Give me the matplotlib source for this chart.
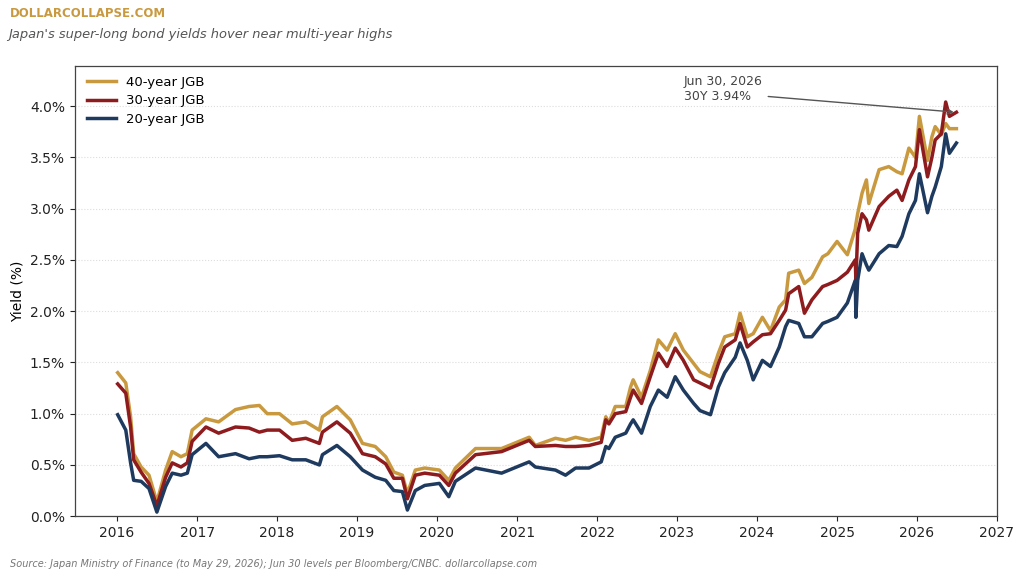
import pandas as pd
import matplotlib
matplotlib.use('Agg')
import matplotlib.pyplot as plt
import matplotlib.ticker as mticker
import matplotlib.dates as mdates

# Stuetzstellen, gemeinsam fuer alle drei Laufzeiten
dates = [
    '2016-01-04', '2016-02-10', '2016-03-03', '2016-03-17', '2016-04-20', '2016-05-26',
    '2016-07-01', '2016-08-10', '2016-09-09', '2016-10-19', '2016-11-17', '2016-12-09',
    '2017-02-10', '2017-04-09', '2017-06-25', '2017-08-26', '2017-10-12', '2017-11-17',
    '2018-01-12', '2018-03-11', '2018-05-12', '2018-07-13', '2018-07-27', '2018-10-01',
    '2018-12-01', '2019-01-26', '2019-03-25', '2019-05-12', '2019-06-18', '2019-07-27',
    '2019-08-19', '2019-09-24', '2019-11-06', '2020-01-12', '2020-02-24', '2020-03-25',
    '2020-06-25', '2020-10-22', '2021-02-25', '2021-03-25', '2021-06-25', '2021-08-10',
    '2021-09-25', '2021-11-25', '2022-01-20', '2022-02-10', '2022-02-24', '2022-03-25',
    '2022-05-12', '2022-06-03', '2022-06-15', '2022-07-23', '2022-09-01', '2022-10-08',
    '2022-11-17', '2022-12-24', '2023-01-30', '2023-03-18', '2023-04-16', '2023-06-03',
    '2023-07-09', '2023-08-07', '2023-09-24', '2023-10-16', '2023-11-18', '2023-12-15',
    '2024-01-26', '2024-03-03', '2024-04-12', '2024-05-11', '2024-05-25', '2024-07-10',
    '2024-08-05', '2024-09-08', '2024-10-27', '2024-11-20', '2025-01-01', '2025-02-17',
    '2025-03-25', '2025-03-28', '2025-04-05', '2025-04-25', '2025-05-15', '2025-05-26',
    '2025-07-12', '2025-08-25', '2025-10-01', '2025-10-25', '2025-11-25', '2025-12-25',
    '2026-01-12', '2026-02-18', '2026-03-10', '2026-03-25', '2026-04-22', '2026-05-12',
    '2026-05-29', '2026-06-30',
]

jgb40 = [
    1.40, 1.30, 0.97, 0.61, 0.48, 0.40,
    0.14, 0.45, 0.63, 0.58, 0.61, 0.84,
    0.95, 0.92, 1.04, 1.07, 1.08, 1.00,
    1.00, 0.90, 0.92, 0.84, 0.97, 1.07,
    0.94, 0.71, 0.68, 0.58, 0.43, 0.40,
    0.22, 0.45, 0.47, 0.45, 0.35, 0.47,
    0.66, 0.66, 0.77, 0.69, 0.76, 0.74,
    0.77, 0.74, 0.77, 0.97, 0.91, 1.07,
    1.07, 1.26, 1.33, 1.16, 1.42, 1.72,
    1.62, 1.78, 1.62, 1.49, 1.41, 1.36,
    1.59, 1.75, 1.78, 1.98, 1.75, 1.78,
    1.94, 1.81, 2.04, 2.11, 2.37, 2.40,
    2.27, 2.33, 2.53, 2.56, 2.68, 2.55,
    2.80, 2.85, 2.95, 3.15, 3.28, 3.05,
    3.38, 3.41, 3.36, 3.34, 3.59, 3.50,
    3.90, 3.47, 3.70, 3.80, 3.72, 3.83,
    3.78, 3.78,
]

jgb30 = [
    1.29, 1.20, 0.87, 0.55, 0.43, 0.32,
    0.10, 0.38, 0.52, 0.48, 0.52, 0.73,
    0.87, 0.81, 0.87, 0.86, 0.82, 0.84,
    0.84, 0.74, 0.76, 0.71, 0.82, 0.92,
    0.81, 0.61, 0.58, 0.51, 0.37, 0.37,
    0.17, 0.40, 0.42, 0.40, 0.30, 0.42,
    0.60, 0.63, 0.74, 0.68, 0.69, 0.68,
    0.68, 0.69, 0.72, 0.94, 0.90, 1.00,
    1.02, 1.16, 1.23, 1.10, 1.36, 1.59,
    1.46, 1.64, 1.52, 1.33, 1.30, 1.25,
    1.49, 1.65, 1.72, 1.88, 1.65, 1.70,
    1.77, 1.78, 1.91, 2.01, 2.17, 2.24,
    1.98, 2.11, 2.24, 2.26, 2.30, 2.38,
    2.50, 2.30, 2.76, 2.95, 2.89, 2.79,
    3.02, 3.12, 3.18, 3.08, 3.28, 3.41,
    3.77, 3.31, 3.50, 3.67, 3.73, 4.04,
    3.90, 3.94,
]

jgb20 = [
    0.99, 0.84, 0.52, 0.35, 0.34, 0.27,
    0.04, 0.29, 0.42, 0.40, 0.42, 0.60,
    0.71, 0.58, 0.61, 0.56, 0.58, 0.58,
    0.59, 0.55, 0.55, 0.50, 0.60, 0.69,
    0.58, 0.45, 0.38, 0.35, 0.25, 0.24,
    0.06, 0.25, 0.30, 0.32, 0.19, 0.34,
    0.47, 0.42, 0.53, 0.48, 0.45, 0.40,
    0.47, 0.47, 0.53, 0.68, 0.66, 0.77,
    0.81, 0.90, 0.94, 0.81, 1.07, 1.23,
    1.16, 1.36, 1.23, 1.10, 1.03, 0.99,
    1.26, 1.40, 1.55, 1.69, 1.52, 1.33,
    1.52, 1.46, 1.65, 1.85, 1.91, 1.88,
    1.75, 1.75, 1.88, 1.90, 1.94, 2.08,
    2.30, 1.94, 2.30, 2.56, 2.45, 2.40,
    2.56, 2.64, 2.63, 2.73, 2.95, 3.08,
    3.34, 2.96, 3.12, 3.21, 3.41, 3.73,
    3.54, 3.64,
]

df = pd.DataFrame({'d': pd.to_datetime(dates), 'y40': jgb40, 'y30': jgb30, 'y20': jgb20})

gold = '#C9993F'
red = '#8E1B1D'
navy = '#1F3A5F'

fig = plt.figure(figsize=(10.24, 5.8), dpi=100)
ax = fig.add_axes([0.073, 0.110, 0.901, 0.776])

ax.plot(df['d'], df['y40'], color=gold, lw=2.5, label='40-year JGB')
ax.plot(df['d'], df['y30'], color=red, lw=2.5, label='30-year JGB')
ax.plot(df['d'], df['y20'], color=navy, lw=2.5, label='20-year JGB')

ax.set_ylim(0, 4.39)
ax.set_xlim(pd.Timestamp('2015-06-22'), pd.Timestamp('2027-01-03'))
ax.yaxis.set_major_locator(mticker.MultipleLocator(0.5))
ax.yaxis.set_major_formatter(mticker.FuncFormatter(lambda v, p: f'{v:.1f}%'))
ax.xaxis.set_major_locator(mdates.YearLocator())
ax.xaxis.set_major_formatter(mdates.DateFormatter('%Y'))
ax.tick_params(labelsize=10, colors='#222222')
ax.grid(axis='y', linestyle=':', color='#dddddd', lw=0.8)
ax.set_axisbelow(True)
for s in ax.spines.values():
    s.set_color('#444444')
    s.set_linewidth(0.9)
ax.set_ylabel('Yield (%)', fontsize=10)

ax.legend(loc='upper left', frameon=False, fontsize=9.5, handlelength=2.2,
          labelspacing=0.42, bbox_to_anchor=(0.0, 1.005))

# Annotation letzter 30Y-Wert
last = df.iloc[-1]
ax.annotate(f"Jun 30, 2026\n30Y {last['y30']:.2f}%",
            xy=(last['d'], last['y30']),
            xytext=(pd.Timestamp('2023-02-01'), 4.03),
            fontsize=9, color='#444444', ha='left', va='bottom',
            arrowprops=dict(arrowstyle='->', color='#555555', lw=1.0, relpos=(1.0, 0.25)))

fig.text(0.0098, 0.976, 'DOLLARCOLLAPSE.COM', fontsize=8.5, fontweight='bold', color=gold, va='center')
fig.text(0.0078, 0.941, "Japan's super-long bond yields hover near multi-year highs",
         fontsize=9.4, style='italic', color='#555555', va='center')
fig.text(0.0098, 0.027, 'Source: Japan Ministry of Finance (to May 29, 2026); Jun 30 levels per Bloomberg/CNBC. dollarcollapse.com',
         fontsize=7, style='italic', color='#777777', va='center')

fig.savefig('out.png', dpi=100)
